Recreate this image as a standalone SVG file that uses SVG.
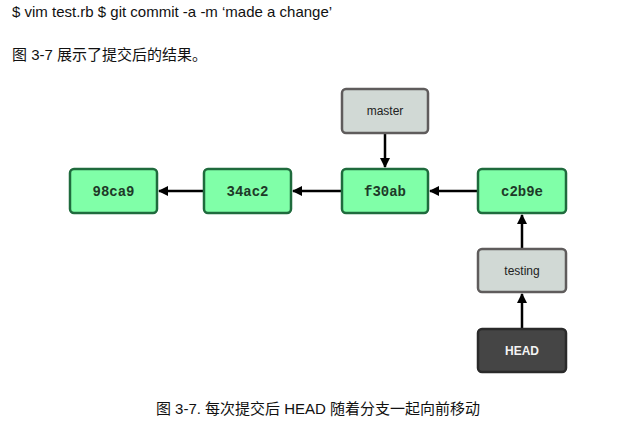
<svg xmlns="http://www.w3.org/2000/svg" width="635" height="432" viewBox="0 0 635 432">
<defs>
<style>
.commit rect{fill:#80ffa8;stroke:#1f6b3d;stroke-width:2.5}
.commit text{font-family:"Liberation Mono","DejaVu Sans Mono",monospace;font-weight:bold;font-size:14px;fill:#1e3a28;text-anchor:middle}
.branch rect{fill:#d1d9d5;stroke:#5f5c5c;stroke-width:2.5}
.branch text{font-family:"Liberation Sans",Arial,sans-serif;font-size:12px;fill:#222;text-anchor:middle}
.head rect{fill:#454545;stroke:#2a2a2a;stroke-width:2.5}
.head text{font-family:"Liberation Sans",Arial,sans-serif;font-size:12px;font-weight:bold;fill:#f4f4f4;text-anchor:middle}
.conn line{stroke:#000;stroke-width:2.5}
.body{font-family:"Liberation Sans","Noto Sans CJK SC",sans-serif;font-size:15px;fill:#111}
</style>
<marker id="ah" viewBox="0 0 10 10" refX="9" refY="5" markerWidth="4" markerHeight="4" orient="auto" markerUnits="strokeWidth">
<path d="M0,0 L10,5 L0,10 z" fill="#000"/>
</marker>
</defs>
<rect width="635" height="432" fill="#fff"/>
<text class="body" x="12" y="17">$ vim test.rb $ git commit -a -m ‘made a change’</text>
<text class="body" x="12" y="60">图 3-7 展示了提交后的结果。</text>
<g class="conn">
<line x1="204" y1="191" x2="159" y2="191" marker-end="url(#ah)"/>
<line x1="342" y1="191" x2="293" y2="191" marker-end="url(#ah)"/>
<line x1="478" y1="191" x2="430" y2="191" marker-end="url(#ah)"/>
<line x1="385" y1="133" x2="385" y2="167" marker-end="url(#ah)"/>
<line x1="522" y1="249" x2="522" y2="215" marker-end="url(#ah)"/>
<line x1="522" y1="329" x2="522" y2="294" marker-end="url(#ah)"/>
</g>
<g id="c98ca9" class="commit"><rect x="70" y="169" width="87" height="44" rx="4"/><text x="113.5" y="196">98ca9</text></g>
<g id="c34ac2" class="commit"><rect x="204" y="169" width="87" height="44" rx="4"/><text x="247.5" y="196">34ac2</text></g>
<g id="cf30ab" class="commit"><rect x="342" y="169" width="86" height="44" rx="4"/><text x="385" y="196">f30ab</text></g>
<g id="cc2b9e" class="commit"><rect x="478" y="169" width="88" height="44" rx="4"/><text x="522" y="196">c2b9e</text></g>
<g id="master" class="branch"><rect x="342" y="89" width="86" height="44" rx="4"/><text x="385" y="115">master</text></g>
<g id="testing" class="branch"><rect x="478" y="249" width="88" height="43" rx="4"/><text x="522" y="275">testing</text></g>
<g id="HEAD" class="head"><rect x="478" y="329" width="88" height="43" rx="4"/><text x="522" y="355">HEAD</text></g>
<text class="body" x="318" y="414" text-anchor="middle">图 3-7. 每次提交后 HEAD 随着分支一起向前移动</text>
</svg>
